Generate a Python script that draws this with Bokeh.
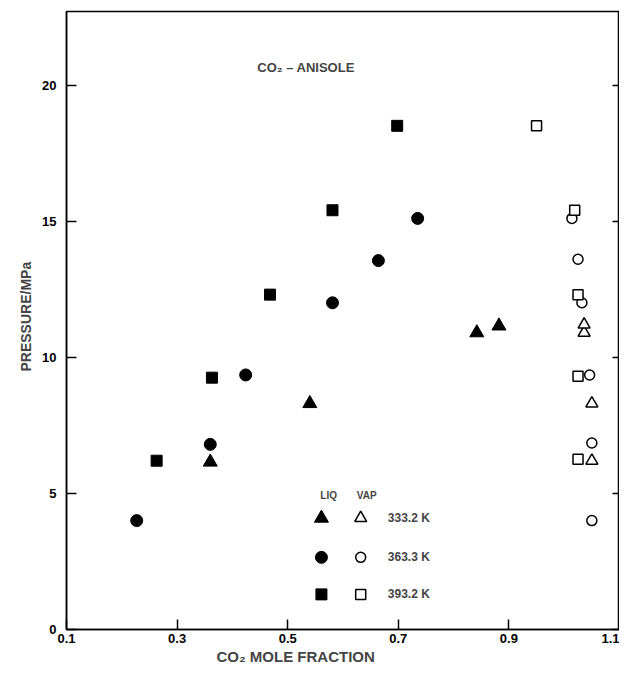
from bokeh.plotting import figure
from bokeh.models import LinearAxis, Label, Title, FixedTicker
from bokeh.embed import file_html
from bokeh.resources import INLINE

# ---- data ----
temps = ["333.2", "363.3", "393.2"]
liq_x_333 = [0.36, 0.54, 0.842, 0.882]
liq_p_333 = [6.15, 8.3, 10.9, 11.15]
vap_x_333 = [1.05, 1.05, 1.036, 1.036]
vap_p_333 = [6.2, 8.3, 10.9, 11.2]

liq_x_363 = [0.227, 0.36, 0.424, 0.581, 0.664, 0.735]
liq_p_363 = [4.0, 6.8, 9.35, 12.0, 13.55, 15.1]
vap_x_363 = [1.05, 1.05, 1.046, 1.032, 1.025, 1.014]
vap_p_363 = [4.0, 6.85, 9.35, 12.0, 13.6, 15.1]

liq_x_393 = [0.263, 0.363, 0.468, 0.581, 0.698]
liq_p_393 = [6.2, 9.25, 12.3, 15.4, 18.5]
vap_x_393 = [1.025, 1.025, 1.025, 1.019, 0.95]
vap_p_393 = [6.25, 9.3, 12.3, 15.4, 18.5]

x_ticks = [0.1, 0.3, 0.5, 0.7, 0.9, 1.1]
y_ticks = [0, 5, 10, 15, 20]

FONT = "Liberation Sans"

p = figure(width=619, height=667, x_range=(0.1, 1.1), y_range=(0, 22.7),
           output_backend="svg", toolbar_location=None,
           min_border_left=66, min_border_top=11, min_border_right=0,
           min_border_bottom=38)
p.xgrid.visible = False
p.ygrid.visible = False
p.outline_line_color = "black"
p.outline_line_width = 1.5
p.background_fill_color = "white"

for ax in (p.xaxis[0], p.yaxis[0]):
    ax.axis_line_width = 1.5
    ax.major_tick_line_width = 1.5
    ax.major_tick_in = 10
    ax.major_tick_out = 0
    ax.minor_tick_in = 0
    ax.minor_tick_out = 0
    ax.major_label_text_font = FONT
    ax.major_label_text_font_size = "13px"
    ax.major_label_text_font_style = "bold"
    ax.major_label_text_color = "black"

p.xaxis[0].ticker = FixedTicker(ticks=x_ticks)
p.xaxis[0].major_label_overrides = {t: ("%.1f" % t) for t in x_ticks}
p.xaxis[0].major_label_standoff = 4
p.yaxis[0].ticker = FixedTicker(ticks=y_ticks)
p.yaxis[0].major_label_standoff = 10

r_ax = LinearAxis(ticker=FixedTicker(ticks=y_ticks), major_tick_in=7, major_tick_out=0,
                  minor_tick_in=0, minor_tick_out=0, major_label_text_font_size="0px",
                  major_label_standoff=0, axis_line_width=1.5, major_tick_line_width=1.5)
p.add_layout(r_ax, "right")

p.add_layout(Title(text="CO\u2082 MOLE FRACTION", align="left", offset=150, standoff=1,
                   text_font=FONT, text_font_size="15px", text_font_style="bold"), "below")
p.add_layout(Title(text="PRESSURE/MPa", align="left", offset=258, standoff=12,
                   text_font=FONT, text_font_size="14px", text_font_style="bold"), "left")

# liquid (filled)
p.scatter(liq_x_333, liq_p_333, marker="triangle", size=14, fill_color="black", line_color="black")
p.scatter(liq_x_363, liq_p_363, marker="circle", size=12, fill_color="black", line_color="black")
p.scatter(liq_x_393, liq_p_393, marker="square", size=11, fill_color="black", line_color="black")
# vapour (open)
p.scatter(vap_x_333, vap_p_333, marker="triangle", size=12, fill_color="white", line_color="black", line_width=1.5)
p.scatter(vap_x_363, vap_p_363, marker="circle", size=10, fill_color="white", line_color="black", line_width=1.5)
p.scatter(vap_x_393, vap_p_393, marker="square", size=10, fill_color="white", line_color="black", line_width=1.5)

# chart title
p.add_layout(Label(x=0.445, y=20.66, text="CO\u2082 \u2013 ANISOLE", text_font=FONT,
                   text_font_size="13px", text_font_style="bold", text_baseline="middle"))

# legend (layout positions)
leg_x_liq = 0.561
leg_x_vap = 0.632
leg_x_txt = 0.681
leg_ys = [4.09, 2.65, 1.29]
p.add_layout(Label(x=0.574, y=4.94, text="LIQ", text_font=FONT, text_font_size="10px",
                   text_font_style="bold", text_align="center", text_baseline="middle"))
p.add_layout(Label(x=0.643, y=4.94, text="VAP", text_font=FONT, text_font_size="10px",
                   text_font_style="bold", text_align="center", text_baseline="middle"))
markers = ["triangle", "circle", "square"]
fsz = [14, 12, 11]
osz = [12, 10, 10]
for mk, yy, t, fs, os_ in zip(markers, leg_ys, temps, fsz, osz):
    p.scatter([leg_x_liq], [yy], marker=mk, size=fs, fill_color="black", line_color="black")
    p.scatter([leg_x_vap], [yy], marker=mk, size=os_, fill_color="white", line_color="black", line_width=1.5)
    p.add_layout(Label(x=leg_x_txt, y=yy, text=t + " K", text_font=FONT, text_font_size="12px",
                       text_font_style="bold", text_baseline="middle"))

open("out.html", "w").write(file_html(p, INLINE))
